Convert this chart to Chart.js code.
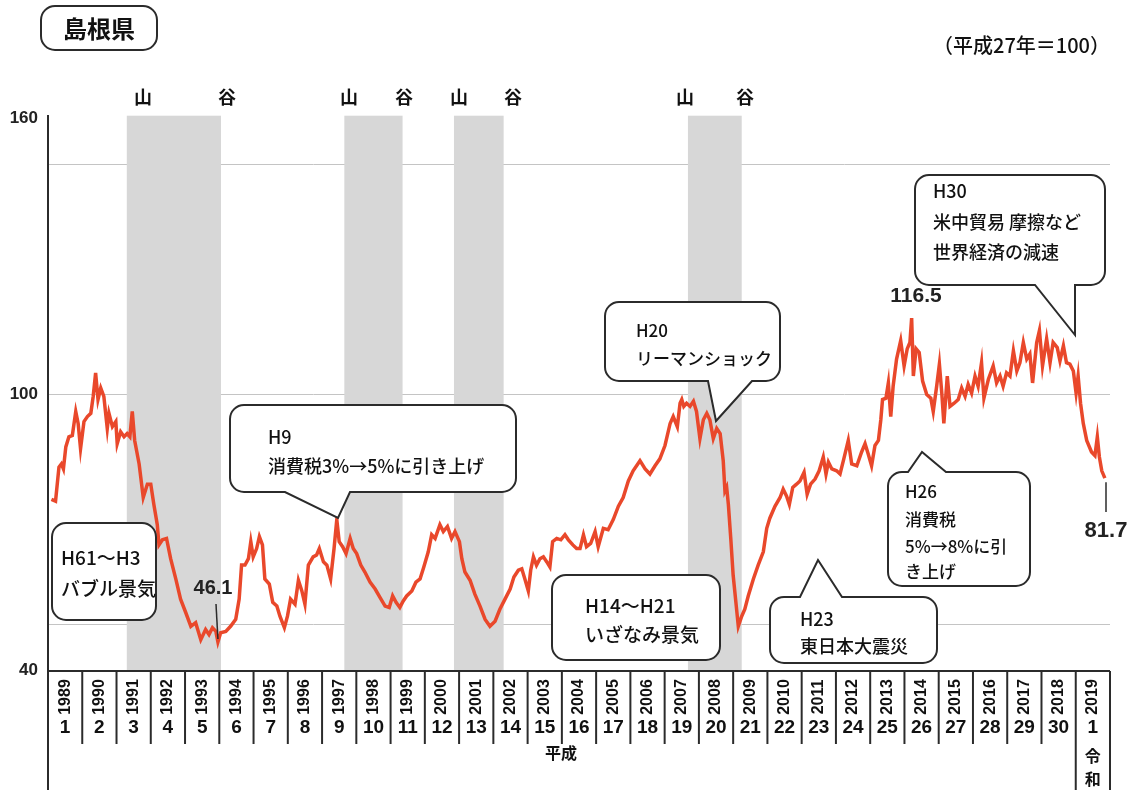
<!DOCTYPE html>
<html lang="ja">
<head>
<meta charset="UTF-8">
<title>島根県</title>
<script src="https://cdn.jsdelivr.net/npm/chart.js@4/dist/chart.umd.min.js"></script>
<style>
  html, body { margin: 0; padding: 0; background: #fff; }
  canvas { display: block; }
</style>
</head>
<body>
<canvas id="chart" width="1131" height="791"></canvas>
<script>
// 指数（平成27年=100）。横軸は年を小数で表したもの
const dates = [
  1989.10, 1989.22, 1989.32, 1989.39, 1989.45, 1989.52, 1989.61, 1989.71, 1989.81, 1989.88, 1989.95,
  1990.05, 1990.15, 1990.25, 1990.32, 1990.39, 1990.46, 1990.54, 1990.63, 1990.73, 1990.78, 1990.88, 1990.98,
  1991.02, 1991.12, 1991.22, 1991.31, 1991.39, 1991.46, 1991.53, 1991.66, 1991.78, 1991.90,
  1992.00, 1992.09, 1992.19, 1992.24, 1992.34, 1992.46, 1992.58, 1992.73, 1992.87,
  1993.02, 1993.17, 1993.31, 1993.46, 1993.60, 1993.70, 1993.80, 1993.90, 1993.96,
  1994.04, 1994.19, 1994.33, 1994.48, 1994.58, 1994.65, 1994.75, 1994.85, 1994.92, 1994.99,
  1995.09, 1995.17, 1995.26, 1995.33, 1995.46, 1995.56, 1995.68, 1995.77, 1995.90, 1995.99,
  1996.08, 1996.21, 1996.31, 1996.41, 1996.50, 1996.60, 1996.74, 1996.84, 1996.92,
  1997.04, 1997.14, 1997.25, 1997.35, 1997.43, 1997.50, 1997.60, 1997.70, 1997.82, 1997.91,
  1998.01, 1998.13, 1998.25, 1998.40, 1998.55, 1998.69, 1998.84, 1998.96,
  1999.06, 1999.16, 1999.27, 1999.37, 1999.47, 1999.62, 1999.74, 1999.86, 1999.97,
  2000.10, 2000.20, 2000.30, 2000.44, 2000.54, 2000.66, 2000.78, 2000.88,
  2001.01, 2001.08, 2001.17, 2001.32, 2001.46, 2001.61, 2001.76, 2001.90,
  2002.05, 2002.19, 2002.34, 2002.49, 2002.60, 2002.73, 2002.83, 2002.92,
  2003.02, 2003.09, 2003.17, 2003.26, 2003.36, 2003.46, 2003.56, 2003.65, 2003.73, 2003.85, 2003.97,
  2004.09, 2004.19, 2004.32, 2004.43, 2004.53, 2004.63, 2004.72, 2004.84, 2004.97,
  2005.06, 2005.21, 2005.35, 2005.50, 2005.65, 2005.79, 2005.94,
  2006.08, 2006.28, 2006.43, 2006.57, 2006.72, 2006.86,
  2007.01, 2007.16, 2007.25, 2007.37, 2007.45, 2007.50, 2007.56, 2007.64, 2007.74, 2007.84, 2007.93,
  2008.03, 2008.13, 2008.23, 2008.32, 2008.42, 2008.52, 2008.62, 2008.71, 2008.76, 2008.81, 2008.86, 2008.93,
  2009.00, 2009.08, 2009.15, 2009.25, 2009.34, 2009.44, 2009.59, 2009.73, 2009.88, 2009.98,
  2010.07, 2010.22, 2010.37, 2010.46, 2010.56, 2010.64, 2010.74, 2010.85, 2010.95,
  2011.07, 2011.16, 2011.26, 2011.39, 2011.51, 2011.63, 2011.71, 2011.78, 2011.88,
  2012.02, 2012.12, 2012.23, 2012.36, 2012.46, 2012.61, 2012.75, 2012.85, 2012.94,
  2013.04, 2013.14, 2013.24, 2013.31, 2013.36, 2013.46, 2013.53, 2013.60, 2013.67, 2013.77, 2013.89, 2013.99,
  2014.08, 2014.16, 2014.21, 2014.26, 2014.34, 2014.43, 2014.53, 2014.65, 2014.77, 2014.84, 2014.94,
  2015.02, 2015.09, 2015.15, 2015.25, 2015.33, 2015.45, 2015.57, 2015.67, 2015.77, 2015.86, 2015.96,
  2016.06, 2016.15, 2016.25, 2016.32, 2016.45, 2016.59, 2016.69, 2016.79, 2016.88, 2016.98,
  2017.08, 2017.18, 2017.28, 2017.37, 2017.47, 2017.57, 2017.66, 2017.74, 2017.86, 2017.94,
  2018.03, 2018.15, 2018.25, 2018.34, 2018.46, 2018.54, 2018.64, 2018.73, 2018.83, 2018.93,
  2019.01, 2019.07, 2019.14, 2019.22, 2019.32, 2019.46, 2019.56, 2019.63, 2019.69, 2019.76, 2019.85
];
const values = [
  77.1, 76.7, 84.1, 84.8, 83.7, 88.5, 90.7, 91.0, 96.2, 93.6, 88.1,
  94.0, 95.1, 95.8, 99.5, 104.6, 98.8, 101.3, 99.5, 92.5, 95.8, 92.9, 94.0,
  89.2, 91.8, 90.7, 91.4, 90.7, 96.2, 89.9, 84.8, 77.5, 80.4,
  80.4, 76.0, 71.6, 67.2, 68.3, 68.6, 64.2, 59.8, 55.4,
  52.5, 49.5, 50.3, 46.6, 48.8, 47.7, 49.2, 48.4, 46.1,
  48.1, 48.4, 49.5, 51.0, 55.4, 62.8, 62.8, 64.2, 67.9, 64.6,
  66.4, 69.0, 67.2, 59.8, 58.7, 54.7, 53.9, 51.7, 49.2, 51.7,
  55.4, 54.3, 59.5, 57.2, 54.3, 62.8, 64.6, 65.0, 66.4,
  63.5, 62.8, 59.8, 66.4, 72.7, 67.9, 66.8, 65.3, 68.6, 66.4,
  65.3, 62.8, 61.3, 59.1, 57.6, 55.8, 53.9, 53.6,
  56.1, 54.7, 53.6, 55.0, 56.1, 57.2, 59.1, 59.8, 62.4,
  65.7, 69.4, 68.6, 71.6, 70.1, 71.2, 68.6, 70.1,
  67.9, 64.2, 61.3, 59.5, 56.5, 53.9, 51.0, 49.5,
  50.6, 53.2, 55.4, 57.6, 60.2, 61.7, 62.0, 59.8,
  57.2, 61.7, 64.6, 62.8, 64.2, 64.6, 63.5, 62.4, 67.9, 68.6, 68.3,
  69.4, 68.3, 67.2, 66.4, 66.4, 69.4, 66.8, 67.5, 70.1,
  66.8, 70.8, 70.5, 72.7, 75.6, 77.5, 81.1,
  83.3, 85.5, 83.7, 82.6, 84.4, 85.9,
  88.8, 93.6, 95.1, 92.9, 98.0, 98.8, 97.3, 98.0, 97.3, 98.4, 96.2,
  90.3, 94.4, 95.8, 94.4, 90.3, 92.5, 91.4, 85.5, 78.9, 79.7, 76.0, 68.6,
  60.6, 54.7, 49.5, 51.7, 53.2, 56.1, 59.8, 62.8, 65.7, 70.8,
  73.0, 75.6, 77.5, 79.3, 77.8, 76.0, 79.7, 80.4, 81.1,
  83.0, 78.2, 80.4, 81.5, 83.3, 86.3, 82.6, 85.2, 83.7,
  83.3, 82.6, 85.9, 89.9, 84.8, 84.4, 87.4, 89.2, 87.0,
  84.4, 88.8, 89.9, 94.4, 98.8, 99.1, 102.4, 95.1, 101.7, 107.6, 111.6, 106.1,
  109.8, 111.2, 116.5, 103.9, 109.8, 109.0, 102.8, 99.9, 99.1, 96.2, 101.7,
  106.5, 100.2, 93.6, 103.9, 97.3, 98.0, 98.8, 101.3, 99.5, 102.1, 100.2,
  103.9, 101.7, 106.8, 99.1, 103.2, 106.1, 102.4, 103.9, 101.7, 104.6,
  103.9, 109.4, 105.0, 106.8, 111.2, 107.6, 108.7, 102.4, 111.2, 113.8,
  106.1, 112.0, 106.8, 111.2, 110.1, 107.2, 110.5, 106.8, 106.5, 105.0,
  100.2, 103.9, 98.0, 93.6, 89.9, 87.4, 86.6, 90.7, 86.3, 83.3, 81.7
];

const years = [1989, 1990, 1991, 1992, 1993, 1994, 1995, 1996, 1997, 1998, 1999, 2000, 2001, 2002, 2003,
  2004, 2005, 2006, 2007, 2008, 2009, 2010, 2011, 2012, 2013, 2014, 2015, 2016, 2017, 2018, 2019];
const heisei = ['1', '2', '3', '4', '5', '6', '7', '8', '9', '10', '11', '12', '13', '14', '15', '16',
  '17', '18', '19', '20', '21', '22', '23', '24', '25', '26', '27', '28', '29', '30', '1'];

const yTicks = [40, 50, 100, 150, 160];
const yLabels = [40, 100, 160];
const gridValues = [50, 100, 150];

// 景気の山・谷（網掛け）
const bandStart = [1991.3, 1997.65, 2000.85, 2007.68];
const bandEnd = [1994.05, 1999.35, 2002.3, 2009.25];

// 注記の数値
const troughValue = 46.1;
const peakValue = 116.5;
const lastValue = 81.7;

const JP = "'Noto Sans CJK JP', 'Noto Sans', sans-serif";
const NUM = "'Liberation Sans', Arial, sans-serif";
const NARROW = "'Liberation Sans Narrow', 'Liberation Sans', Arial, sans-serif";

const bubbles = [
  { x: 52, y: 523, w: 104, h: 97, lines: [['H61～H3', 558], ['バブル景気', 589]], tx: 61, size: 19 },
  { x: 230, y: 405, w: 286, h: 87, lines: [['H9', 437], ['消費税3%→5%に引き上げ', 466]], tx: 268, size: 18,
    tail: { side: 'bottom', a: 285, b: 350, tx: 338, ty: 518 } },
  { x: 605, y: 302, w: 175, h: 79, lines: [['H20', 331], ['リーマンショック', 359]], tx: 636, size: 17,
    tail: { side: 'bottom', a: 708, b: 752, tx: 716, ty: 421 } },
  { x: 915, y: 175, w: 190, h: 110, lines: [['H30', 191], ['米中貿易 摩擦など', 222], ['世界経済の減速', 252]], tx: 933, size: 18,
    tail: { side: 'bottom', a: 1035, b: 1075, tx: 1075, ty: 335 } },
  { x: 552, y: 575, w: 168, h: 85, lines: [['H14～H21', 606], ['いざなみ景気', 635]], tx: 585, size: 19 },
  { x: 770, y: 597, w: 167, h: 66, lines: [['H23', 619], ['東日本大震災', 646]], tx: 800, size: 18,
    tail: { side: 'top', a: 800, b: 842, tx: 818, ty: 560 } },
  { x: 888, y: 472, w: 142, h: 114, lines: [['H26', 492], ['消費税', 520], ['5%→8%に引', 547], ['き上げ', 572]], tx: 905, size: 17,
    tail: { side: 'top', a: 908, b: 946, tx: 922, ty: 452 } }
];

function bubblePath(ctx, b) {
  const x = b.x, y = b.y, w = b.w, h = b.h, r = 14, t = b.tail;
  ctx.beginPath();
  ctx.moveTo(x + r, y);
  if (t && t.side === 'top') { ctx.lineTo(t.a, y); ctx.lineTo(t.tx, t.ty); ctx.lineTo(t.b, y); }
  ctx.lineTo(x + w - r, y);
  ctx.arcTo(x + w, y, x + w, y + r, r);
  ctx.lineTo(x + w, y + h - r);
  ctx.arcTo(x + w, y + h, x + w - r, y + h, r);
  if (t && t.side === 'bottom') { ctx.lineTo(t.b, y + h); ctx.lineTo(t.tx, t.ty); ctx.lineTo(t.a, y + h); }
  ctx.lineTo(x + r, y + h);
  ctx.arcTo(x, y + h, x, y + h - r, r);
  ctx.lineTo(x, y + r);
  ctx.arcTo(x, y, x + r, y, r);
  ctx.closePath();
}

const bandsPlugin = {
  id: 'bands',
  beforeDatasetsDraw(chart) {
    const { ctx, chartArea } = chart;
    const xs = chart.scales.x, ys = chart.scales.y;
    ctx.save();
    ctx.fillStyle = '#d7d7d7';
    const top = ys.getPixelForValue(160.5);
    for (let i = 0; i < bandStart.length; i++) {
      const x0 = xs.getPixelForValue(bandStart[i]);
      const x1 = xs.getPixelForValue(bandEnd[i]);
      ctx.fillRect(x0, top, x1 - x0, chartArea.bottom - top);
    }
    ctx.restore();
  }
};

const decorPlugin = {
  id: 'decor',
  afterDraw(chart) {
    const { ctx, chartArea } = chart;
    const xs = chart.scales.x, ys = chart.scales.y;
    ctx.save();

    // 年の表
    const tTop = chartArea.bottom + 1;
    ctx.strokeStyle = '#2b2b2b';
    ctx.lineWidth = 2;
    ctx.beginPath();
    ctx.moveTo(chartArea.left, tTop);
    ctx.lineTo(xs.getPixelForValue(2020), tTop);
    ctx.stroke();
    ctx.beginPath();
    ctx.moveTo(chartArea.left, chartArea.top - 3);
    ctx.lineTo(chartArea.left, 790);
    ctx.stroke();
    for (let i = 1; i <= years.length; i++) {
      const px = xs.getPixelForValue(years[0] + i);
      ctx.beginPath();
      ctx.moveTo(px, tTop);
      ctx.lineTo(px, i >= years.length - 1 ? 790 : 744);
      ctx.stroke();
    }
    ctx.fillStyle = '#111';
    ctx.textAlign = 'center';
    ctx.textBaseline = 'middle';
    years.forEach((yr, i) => {
      const cx = xs.getPixelForValue(yr + 0.5);
      ctx.save();
      ctx.translate(cx, 697);
      ctx.rotate(-Math.PI / 2);
      ctx.font = 'bold 16px ' + NUM;
      ctx.fillText(String(yr), 0, 0);
      ctx.restore();
      ctx.font = 'bold 19px ' + NARROW;
      ctx.fillText(heisei[i], cx, 728);
    });
    ctx.font = 'bold 16px ' + JP;
    ctx.fillText('平成', 561, 753);
    const rx = xs.getPixelForValue(2019.5);
    ctx.fillText('令', rx, 756);
    ctx.fillText('和', rx, 779);

    // 山・谷
    ctx.font = 'bold 18px ' + JP;
    const peakX = [143, 349, 459, 685];
    const troughX = [227, 404, 513, 745];
    peakX.forEach(px => ctx.fillText('山', px, 97));
    troughX.forEach(px => ctx.fillText('谷', px, 97));

    // タイトル
    bubblePath(ctx, { x: 41, y: 6, w: 116, h: 44 });
    ctx.fillStyle = '#fff';
    ctx.fill();
    ctx.lineWidth = 2;
    ctx.stroke();
    ctx.fillStyle = '#111';
    ctx.font = 'bold 24px ' + JP;
    ctx.fillText('島根県', 99, 29);
    ctx.font = '500 20px ' + JP;
    ctx.textAlign = 'right';
    ctx.fillText('（平成27年＝100）', 1110, 45);

    // 吹き出し
    bubbles.forEach(b => {
      bubblePath(ctx, b);
      ctx.fillStyle = '#fff';
      ctx.fill();
      ctx.strokeStyle = '#2b2b2b';
      ctx.lineWidth = 2;
      ctx.stroke();
      ctx.fillStyle = '#111';
      ctx.textAlign = 'left';
      ctx.font = '500 ' + b.size + 'px ' + JP;
      b.lines.forEach(([txt, ty]) => ctx.fillText(txt, b.tx, ty));
    });

    // 数値ラベル
    ctx.textAlign = 'center';
    ctx.fillStyle = '#222';
    ctx.font = 'bold 20px ' + NUM;
    ctx.fillText(troughValue.toFixed(1), 213, 588);
    ctx.lineWidth = 1.5;
    ctx.beginPath();
    ctx.moveTo(216, 604);
    ctx.lineTo(xs.getPixelForValue(1993.96), ys.getPixelForValue(troughValue) - 3);
    ctx.stroke();
    ctx.font = 'bold 21px ' + NUM;
    ctx.fillText(peakValue.toFixed(1), 916, 296);
    ctx.font = 'bold 22px ' + NUM;
    ctx.fillText(lastValue.toFixed(1), 1106, 531);
    ctx.beginPath();
    ctx.moveTo(1106, ys.getPixelForValue(lastValue) + 4);
    ctx.lineTo(1106, 512);
    ctx.stroke();

    ctx.restore();
  }
};

new Chart(document.getElementById('chart'), {
  type: 'line',
  data: {
    datasets: [{
      data: dates.map((d, i) => ({ x: d, y: values[i] })),
      borderColor: '#e9482b',
      borderWidth: 3.5,
      pointRadius: 0,
      tension: 0
    }]
  },
  options: {
    responsive: false,
    animation: false,
    layout: { padding: { top: 118, right: 21, bottom: 121, left: 0 } },
    plugins: { legend: { display: false }, tooltip: { enabled: false } },
    scales: {
      x: { type: 'linear', min: 1989, max: 2020, display: false },
      y: {
        min: 40,
        max: 160,
        afterFit(scale) { scale.width = 48; },
        afterBuildTicks(scale) { scale.ticks = yTicks.map(v => ({ value: v })); },
        ticks: {
          padding: 10,
          color: '#222',
          font: { family: NUM, size: 17, weight: 'bold' },
          callback: v => (yLabels.includes(v) ? String(v) : '')
        },
        grid: {
          drawTicks: false,
          color: ctx => (ctx.tick && gridValues.includes(ctx.tick.value) ? '#c4c4c4' : 'rgba(0,0,0,0)'),
          lineWidth: 1
        },
        border: { display: false }
      }
    }
  },
  plugins: [bandsPlugin, decorPlugin]
});
</script>
</body>
</html>
